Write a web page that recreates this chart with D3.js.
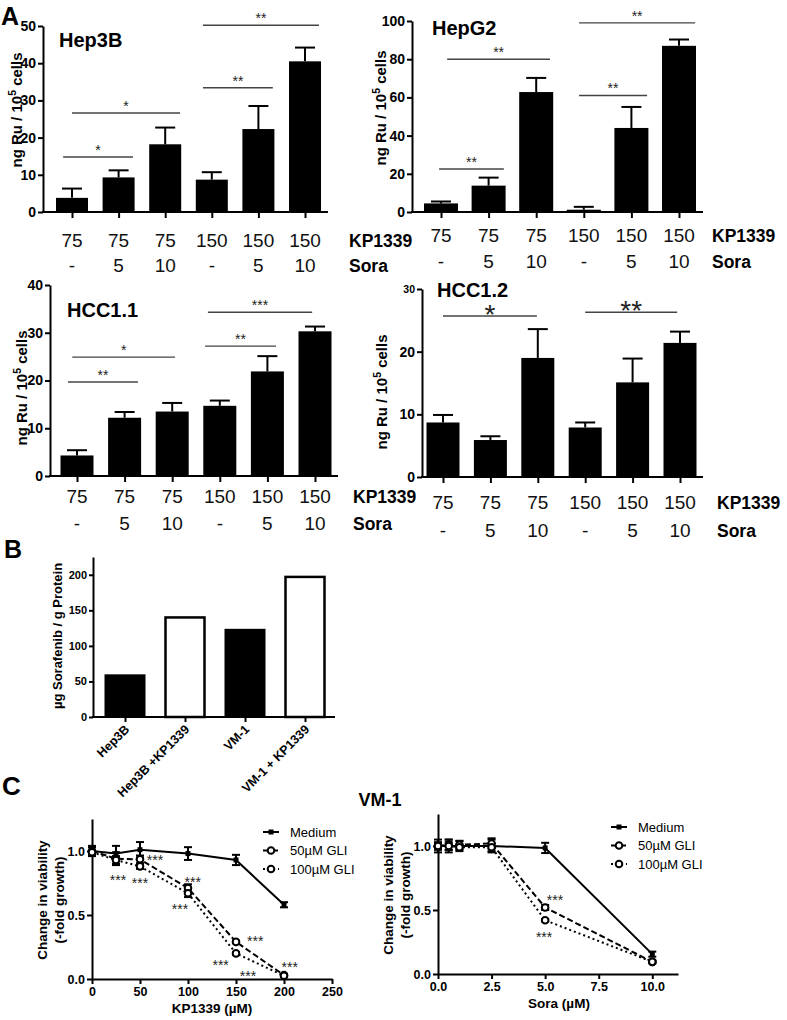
<!DOCTYPE html>
<html><head><meta charset="utf-8">
<script src="https://cdn.jsdelivr.net/npm/d3@7"></script>
<style>
body{margin:0;background:#fff;}
svg{display:block;font-family:"Liberation Sans",Arial,sans-serif;}
</style></head><body>
<svg id="fig" width="787" height="1020"></svg>
<script>
// ---------- DATA ----------
const kpLabels = ["75","75","75","150","150","150"];
const soraLabels = ["-","5","10","-","5","10"];

const hep3bMean = [3.8, 9.3, 18.2, 8.7, 22.3, 40.5];
const hep3bSem  = [2.5, 1.9, 4.5, 2.0, 6.2, 3.7];
const hep3bTicks = [0,10,20,30,40,50];
const hep3bSig = [[-0.19,1.31,14.8,"*"],[0,2.32,26.6,"*"],[2.81,4.31,33.4,"**"],[2.81,5.3,50.2,"**"]];

const hepg2Mean = [4.5, 13.8, 62.8, 1.2, 44.0, 87.0];
const hepg2Sem  = [1.0, 4.2, 7.4, 1.5, 11.0, 3.3];
const hepg2Ticks = [0,20,40,60,80,100];
const hepg2Sig = [[-0.04,1.32,22.5,"**"],[0.13,2.29,80,"**"],[2.9,4.33,61,"**"],[2.9,5.34,99,"**"]];

const hcc11Mean = [4.3, 12.2, 13.5, 14.7, 21.9, 30.3];
const hcc11Sem  = [1.1, 1.2, 1.8, 1.1, 3.2, 1.0];
const hcc11Ticks = [0,10,20,30,40];
const hcc11Sig = [[-0.19,1.28,19.7,"**"],[-0.1,2.06,24.9,"*"],[2.69,4.18,27.2,"**"],[2.75,4.94,34.3,"***"]];

const hcc12Mean = [8.7, 5.9, 19.0, 7.9, 15.1, 21.4];
const hcc12Sem  = [1.2, 0.6, 4.6, 0.8, 3.8, 1.8];
const hcc12Ticks = [0,10,20,30];
const hcc12Sig = [[0,1.98,25.7,"*"],[3.0,4.94,26.3,"**"]];

const bCategories = ["Hep3B","Hep3B +KP1339","VM-1","VM-1 + KP1339"];
const bValues = [60, 140, 124, 197];
const bFilled = [true, false, true, false];
const bTicks = [0,50,100,150,200];

const seriesNames = ["Medium","50µM GLI","100µM GLI"];
const kpDose = [0,25,50,100,150,200];
const kpMedium = [1.0, 0.98, 1.01, 0.98, 0.93, 0.58];
const kpMediumErr = [0.04, 0.06, 0.06, 0.05, 0.04, 0.02];
const kpGli50 = [1.0, 0.94, 0.935, 0.71, 0.29, 0.03];
const kpGli50Err = [0.03, 0.05, 0.03, 0.03, 0.01, 0.01];
const kpGli100 = [0.99, 0.93, 0.88, 0.67, 0.20, 0.025];
const kpGli100Err = [0.02, 0.03, 0.02, 0.03, 0.01, 0.01];
const kpTicksX = [0,50,100,150,200,250];
const kpStars = [[65.6,0.95],[27,0.80],[50,0.77],[105,0.78],[91.7,0.57],[170,0.32],[134,0.13],[162.5,0.05],[206,0.12]];

const soraDose = [0,0.5,1,2.5,5,10];
const soraMedium = [1.0, 1.0, 1.0, 1.0, 0.985, 0.155];
const soraMediumErr = [0.05, 0.05, 0.04, 0.05, 0.04, 0.02];
const soraGli50 = [1.0, 1.01, 1.01, 1.02, 0.52, 0.095];
const soraGli50Err = [0.03, 0.04, 0.03, 0.04, 0.02, 0.01];
const soraGli100 = [1.0, 1.0, 0.99, 0.99, 0.42, 0.095];
const soraGli100Err = [0.02, 0.03, 0.02, 0.03, 0.01, 0.01];
const soraTicksX = [0,2.5,5,7.5,10];
const soraStars = [[5.46,0.60],[4.95,0.31]];
const viabTicks = [0,0.5,1.0];

// ---------- DRAW ----------
const svg = d3.select("#fig");

function panelLetter(t,x,y,size){
  svg.append("text").attr("x",x).attr("y",y).attr("font-size",size).attr("font-weight","bold").text(t);
}
panelLetter("A",1,25,25);
panelLetter("B",4,558,25);
panelLetter("C",2,795,26);

function styleAxis(g, fs){
  g.select(".domain").attr("stroke","#000").attr("stroke-width",2);
  g.selectAll(".tick line").attr("stroke","#000").attr("stroke-width",2);
  g.selectAll(".tick text").attr("fill","#000").attr("font-weight","bold").attr("font-size",fs)
    .attr("font-family","'Liberation Sans',Arial,sans-serif");
}

function barPanel(o){
  const g = svg.append("g");
  const y = d3.scaleLinear().domain([0,o.yMax]).range([o.yBottom,o.yTop]);
  const xp = d3.scalePoint().domain(d3.range(o.means.length)).range([o.c0,o.c5]);
  const xl = d3.scaleLinear().domain([0,o.means.length-1]).range([o.c0,o.c5]);
  g.selectAll("rect.bar").data(o.means).join("rect")
    .attr("x",(d,i)=>xp(i)-o.barW/2).attr("y",d=>y(d))
    .attr("width",o.barW).attr("height",d=>o.yBottom-y(d)).attr("fill","#000");
  o.means.forEach((m,i)=>{
    const top = y(m+o.sems[i]);
    g.append("line").attr("x1",xp(i)).attr("x2",xp(i)).attr("y1",y(m)).attr("y2",top).attr("stroke","#000").attr("stroke-width",2);
    g.append("line").attr("x1",xp(i)-10).attr("x2",xp(i)+10).attr("y1",top).attr("y2",top).attr("stroke","#000").attr("stroke-width",2);
  });
  const ya = g.append("g").attr("transform",`translate(${o.axisX},0)`)
    .call(d3.axisLeft(y).tickValues(o.ticks).tickSize(5).tickSizeOuter(0).tickPadding(2));
  styleAxis(ya, o.tickFs || 14);
  if(o.firstTopSmall){ ya.selectAll(".tick text").filter(d=>d===o.yMax).attr("font-size",10.5); }
  g.append("line").attr("x1",o.axisX-1).attr("x2",o.axisRight).attr("y1",o.yBottom).attr("y2",o.yBottom)
    .attr("stroke","#000").attr("stroke-width",2);
  const xa = g.append("g").attr("transform",`translate(0,${o.yBottom})`)
    .call(d3.axisBottom(xp).tickSize(6).tickFormat(""));
  xa.select(".domain").remove();
  xa.selectAll(".tick line").attr("stroke","#000").attr("stroke-width",2);
  g.selectAll("text.kp").data(kpLabels).join("text").attr("class","kp")
    .attr("x",(d,i)=>xp(i)).attr("y",o.row1).attr("text-anchor","middle").attr("font-size",19).attr("fill","#111").text(d=>d);
  g.selectAll("text.so").data(soraLabels).join("text").attr("class","so")
    .attr("x",(d,i)=>xp(i)).attr("y",o.row2).attr("text-anchor","middle").attr("font-size",19).attr("fill","#111").text(d=>d);
  g.append("text").attr("x",o.kpX).attr("y",o.row1).attr("font-size",17.5).attr("font-weight","bold").text("KP1339");
  g.append("text").attr("x",o.kpX).attr("y",o.row2).attr("font-size",17.5).attr("font-weight","bold").text("Sora");
  g.append("text").attr("x",o.titleX).attr("y",o.titleY).attr("font-size",20).attr("font-weight","bold").text(o.title);
  const yl = g.append("text").attr("transform",`translate(${o.ylX},${o.ylY}) rotate(-90)`)
    .attr("text-anchor","middle").attr("font-size",15).attr("font-weight","bold");
  yl.append("tspan").text("ng Ru / 10");
  yl.append("tspan").attr("dy",-6).attr("font-size",10.5).text("5");
  yl.append("tspan").attr("dy",6).text(" cells");
  o.sig.forEach(s=>{
    const yy = y(s[2]);
    g.append("line").attr("x1",xl(s[0])).attr("x2",xl(s[1])).attr("y1",yy).attr("y2",yy).attr("stroke","#444").attr("stroke-width",1.4);
    g.append("text").attr("x",(xl(s[0])+xl(s[1]))/2).attr("y",yy+o.starDy).attr("text-anchor","middle")
      .attr("font-size",o.starFs).attr("fill","#222").text(s[3]);
  });
}

barPanel({title:"Hep3B",titleX:59,titleY:47,axisX:43,axisRight:328,yTop:26,yBottom:212,yMax:50,ticks:hep3bTicks,
  c0:72,c5:305,barW:32,means:hep3bMean,sems:hep3bSem,sig:hep3bSig,row1:247,row2:272,kpX:349,ylX:22,ylY:110,starFs:14,starDy:-2});
barPanel({title:"HepG2",titleX:432,titleY:35,axisX:412,axisRight:703,yTop:21,yBottom:212,yMax:100,ticks:hepg2Ticks,
  c0:441,c5:679,barW:34,means:hepg2Mean,sems:hepg2Sem,sig:hepg2Sig,row1:242,row2:268,kpX:712,ylX:386,ylY:108,starFs:14,starDy:-2});
barPanel({title:"HCC1.1",titleX:67,titleY:317,axisX:50,axisRight:338,yTop:285,yBottom:476,yMax:40,ticks:hcc11Ticks,
  c0:77,c5:315,barW:33,means:hcc11Mean,sems:hcc11Sem,sig:hcc11Sig,row1:503,row2:530,kpX:353,ylX:27,ylY:388,starFs:14,starDy:-2});
barPanel({title:"HCC1.2",titleX:437,titleY:297,axisX:422,axisRight:703,yTop:289,yBottom:477,yMax:30,ticks:hcc12Ticks,
  c0:443,c5:680,barW:33,means:hcc12Mean,sems:hcc12Sem,sig:hcc12Sig,row1:509,row2:537,kpX:717,ylX:387,ylY:392,starFs:28,starDy:8,firstTopSmall:true});

// ---------- Panel B ----------
(function(){
  const g = svg.append("g");
  const y = d3.scaleLinear().domain([0,225]).range([717,557]);
  const x = d3.scalePoint().domain(bCategories).range([125,305]);
  const bw = 41;
  g.selectAll("rect").data(bValues).join("rect")
    .attr("x",(d,i)=>x(bCategories[i])-bw/2+(bFilled[i]?0:1)).attr("y",d=>y(d))
    .attr("width",(d,i)=>bFilled[i]?bw:bw-2).attr("height",d=>717-y(d))
    .attr("fill",(d,i)=>bFilled[i]?"#000":"#fff").attr("stroke","#000").attr("stroke-width",(d,i)=>bFilled[i]?0:2.5);
  const ya = g.append("g").attr("transform","translate(93,0)")
    .call(d3.axisLeft(y).tickValues(bTicks).tickSize(4).tickSizeOuter(0).tickPadding(2));
  styleAxis(ya,11);
  g.append("line").attr("x1",92).attr("x2",335).attr("y1",717).attr("y2",717).attr("stroke","#000").attr("stroke-width",2);
  const xa = g.append("g").attr("transform","translate(0,717)").call(d3.axisBottom(x).tickSize(5).tickFormat(""));
  xa.select(".domain").remove();
  xa.selectAll(".tick line").attr("stroke","#000").attr("stroke-width",2);
  g.selectAll("text.cat").data(bCategories).join("text").attr("class","cat")
    .attr("transform",d=>`translate(${x(d)+2},${727}) rotate(-45)`)
    .attr("text-anchor","end").attr("font-size",12.5).attr("font-weight","bold").attr("dy","0.35em").text(d=>d);
  g.append("text").attr("transform","translate(62,636) rotate(-90)").attr("text-anchor","middle")
    .attr("font-size",13).attr("font-weight","bold").text("µg Sorafenib / g Protein");
})();

// ---------- Panel C ----------
svg.append("text").attr("x",380).attr("y",806).attr("text-anchor","middle").attr("font-size",18).attr("font-weight","bold").text("VM-1");

function linePanel(o){
  const g = svg.append("g");
  const x = d3.scaleLinear().domain([0,o.xMax]).range([o.axisX,o.axisRight]);
  const y = d3.scaleLinear().domain([0,1.25]).range([o.yBottom,o.yBottom-160]);
  const styles = [null,"6,3","2,3"];
  const series = [[o.med,o.medErr],[o.g50,o.g50Err],[o.g100,o.g100Err]];
  const ya = g.append("g").attr("transform",`translate(${o.axisX},0)`)
    .call(d3.axisLeft(y).tickValues(viabTicks).tickFormat(d3.format(".1f")).tickSize(5).tickSizeOuter(0).tickPadding(2));
  styleAxis(ya,12.5);
  const xa = g.append("g").attr("transform",`translate(0,${o.yBottom})`)
    .call(d3.axisBottom(x).tickValues(o.xTicks).tickFormat(o.xFmt).tickSize(5).tickSizeOuter(0).tickPadding(3));
  styleAxis(xa,12.5);
  const line = d3.line().x((d,i)=>x(o.dose[i])).y(d=>y(d));
  series.forEach((s,k)=>{
    g.append("path").datum(s[0]).attr("d",line).attr("fill","none").attr("stroke","#000").attr("stroke-width",2)
      .attr("stroke-dasharray",styles[k]);
    s[0].forEach((v,i)=>{
      const cx = x(o.dose[i]);
      const e = s[1][i];
      g.append("line").attr("x1",cx).attr("x2",cx).attr("y1",y(v-e)).attr("y2",y(v+e)).attr("stroke","#000").attr("stroke-width",2);
      [v-e,v+e].forEach(w=>g.append("line").attr("x1",cx-4).attr("x2",cx+4).attr("y1",y(w)).attr("y2",y(w)).attr("stroke","#000").attr("stroke-width",2));
    });
  });
  series.forEach((s,k)=>{
    s[0].forEach((v,i)=>{
      const cx = x(o.dose[i]);
      if(k===0) g.append("rect").attr("x",cx-2.5).attr("y",y(v)-2.5).attr("width",5).attr("height",5).attr("fill","#000");
      else g.append("circle").attr("cx",cx).attr("cy",y(v)).attr("r",3.3).attr("fill","#fff").attr("stroke","#000").attr("stroke-width",2);
    });
  });
  o.stars.forEach(s=>{
    g.append("text").attr("x",x(s[0])).attr("y",y(s[1])+8).attr("text-anchor","middle").attr("font-size",14).attr("fill","#222").text("***");
  });
  seriesNames.forEach((n,k)=>{
    const ly = o.legY + k*18.5;
    g.append("line").attr("x1",o.legX).attr("x2",o.legX+16).attr("y1",ly).attr("y2",ly).attr("stroke","#000").attr("stroke-width",2)
      .attr("stroke-dasharray",styles[k]);
    if(k===0) g.append("rect").attr("x",o.legX+5.5).attr("y",ly-2.5).attr("width",5).attr("height",5).attr("fill","#000");
    else g.append("circle").attr("cx",o.legX+8).attr("cy",ly).attr("r",3.3).attr("fill","#fff").attr("stroke","#000").attr("stroke-width",2);
    g.append("text").attr("x",o.legX+27).attr("y",ly+4.5).attr("font-size",13).text(n);
  });
  g.append("text").attr("x",(o.axisX+o.axisRight)/2 + o.xlShift).attr("y",o.yBottom+34).attr("text-anchor","middle")
    .attr("font-size",13.5).attr("font-weight","bold").text(o.xLabel);
  g.append("text").attr("transform",`translate(${o.axisX-45},${o.yBottom-79}) rotate(-90)`).attr("text-anchor","middle")
    .attr("font-size",13.5).attr("font-weight","bold").text("Change in viability");
  g.append("text").attr("transform",`translate(${o.axisX-28},${o.yBottom-79}) rotate(-90)`).attr("text-anchor","middle")
    .attr("font-size",13.5).attr("font-weight","bold").text("(-fold growth)");
}

linePanel({axisX:92,axisRight:332,xMax:250,yBottom:979,dose:kpDose,med:kpMedium,medErr:kpMediumErr,g50:kpGli50,g50Err:kpGli50Err,
  g100:kpGli100,g100Err:kpGli100Err,xTicks:kpTicksX,xFmt:d3.format("d"),stars:kpStars,legX:263,legY:832,xLabel:"KP1339 (µM)",xlShift:0});
linePanel({axisX:438,axisRight:678,xMax:11.2,yBottom:974,dose:soraDose,med:soraMedium,medErr:soraMediumErr,g50:soraGli50,g50Err:soraGli50Err,
  g100:soraGli100,g100Err:soraGli100Err,xTicks:soraTicksX,xFmt:d3.format(".1f"),stars:soraStars,legX:611,legY:827,xLabel:"Sora (µM)",xlShift:1});
</script>
</body></html>
